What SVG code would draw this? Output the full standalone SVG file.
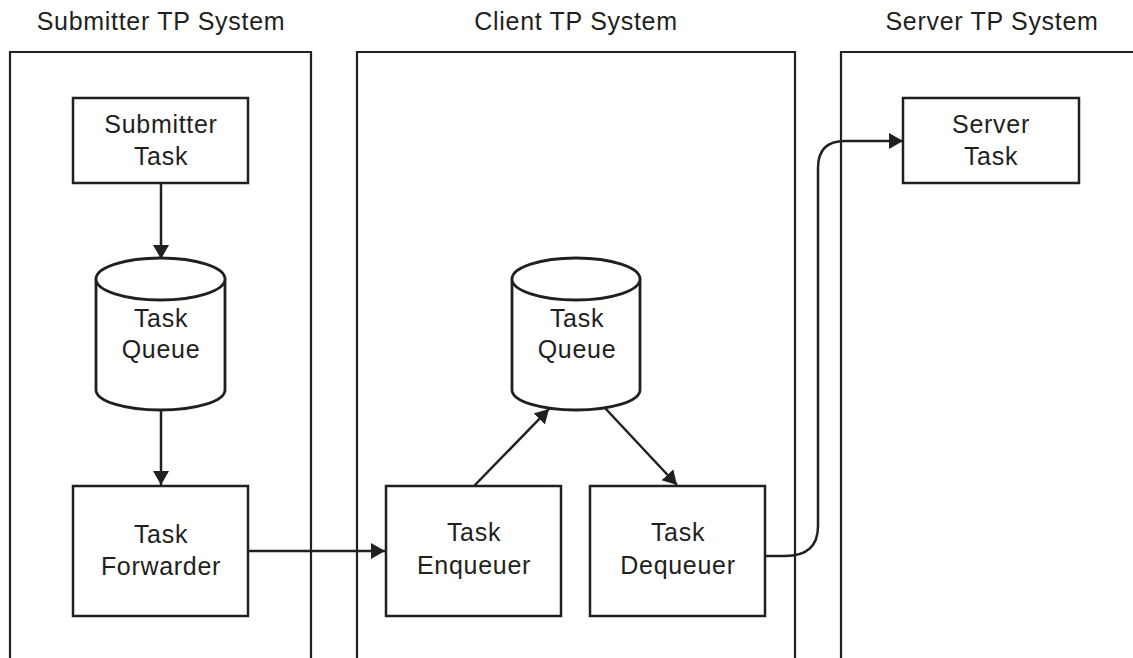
<svg xmlns="http://www.w3.org/2000/svg" width="1133" height="658" viewBox="0 0 1133 658">
<style>
.lane{fill:none;stroke:#231f20;stroke-width:2.2}
.box{fill:#fff;stroke:#231f20;stroke-width:2.5}
.cyl{fill:#fff;stroke:#231f20;stroke-width:2.8}
.t{font-family:"Liberation Sans",Arial,sans-serif;font-size:25px;letter-spacing:0.7px;fill:#231f20;text-anchor:middle}
.c{fill:none;stroke:#231f20;stroke-width:2.5}
</style>
<defs>
<marker id="ah" markerUnits="userSpaceOnUse" markerWidth="16" markerHeight="17" refX="14" refY="8" orient="auto">
<path d="M0,0 L14,8 L0,16 z" fill="#231f20"/>
</marker>
</defs>
<rect width="1133" height="658" fill="#fff"/>
<g id="lane-submitter">
<path class="lane" d="M10,660 V52 H311 V660"/>
<text class="t" x="161" y="30">Submitter TP System</text>
</g>
<g id="lane-client">
<path class="lane" d="M357,660 V52 H795 V660"/>
<text class="t" x="576" y="30">Client TP System</text>
</g>
<g id="lane-server">
<path class="lane" d="M841,660 V52 H1140"/>
<text class="t" x="992" y="30">Server TP System</text>
</g>
<g id="connectors">
<path class="c" d="M161,183 V259" marker-end="url(#ah)"/>
<path class="c" d="M161,410 V485" marker-end="url(#ah)"/>
<path class="c" d="M248,551 H385" marker-end="url(#ah)"/>
<path class="c" d="M474,486 L549,409" marker-end="url(#ah)"/>
<path class="c" d="M605,408 L677,485" marker-end="url(#ah)"/>
<path class="c" d="M765,556 H785 Q818,556 818,526 V168 Q818,141 845,141 H903" marker-end="url(#ah)"/>
</g>
<g id="submitter-task">
<rect class="box" x="73" y="98" width="175" height="85"/>
<text class="t" x="161" y="133">Submitter</text>
<text class="t" x="161" y="165">Task</text>
</g>
<g id="submitter-queue">
<path class="cyl" d="M96,279 V390 A64.5,20 0 0 0 225,390 V279"/>
<ellipse class="cyl" cx="160.5" cy="279" rx="64.5" ry="21"/>
<text class="t" x="161" y="327">Task</text>
<text class="t" x="161" y="358">Queue</text>
</g>
<g id="task-forwarder">
<rect class="box" x="73" y="486" width="175" height="130"/>
<text class="t" x="161" y="543">Task</text>
<text class="t" x="161" y="575">Forwarder</text>
</g>
<g id="client-queue">
<path class="cyl" d="M512,279 V390 A64,20 0 0 0 640,390 V279"/>
<ellipse class="cyl" cx="576" cy="279" rx="64" ry="21"/>
<text class="t" x="577" y="327">Task</text>
<text class="t" x="577" y="358">Queue</text>
</g>
<g id="task-enqueuer">
<rect class="box" x="386" y="486" width="175" height="130"/>
<text class="t" x="474" y="541">Task</text>
<text class="t" x="474" y="574">Enqueuer</text>
</g>
<g id="task-dequeuer">
<rect class="box" x="590" y="486" width="175" height="130"/>
<text class="t" x="678" y="541">Task</text>
<text class="t" x="678" y="574">Dequeuer</text>
</g>
<g id="server-task">
<rect class="box" x="903" y="98" width="176" height="85"/>
<text class="t" x="991" y="133">Server</text>
<text class="t" x="991" y="165">Task</text>
</g>
</svg>
